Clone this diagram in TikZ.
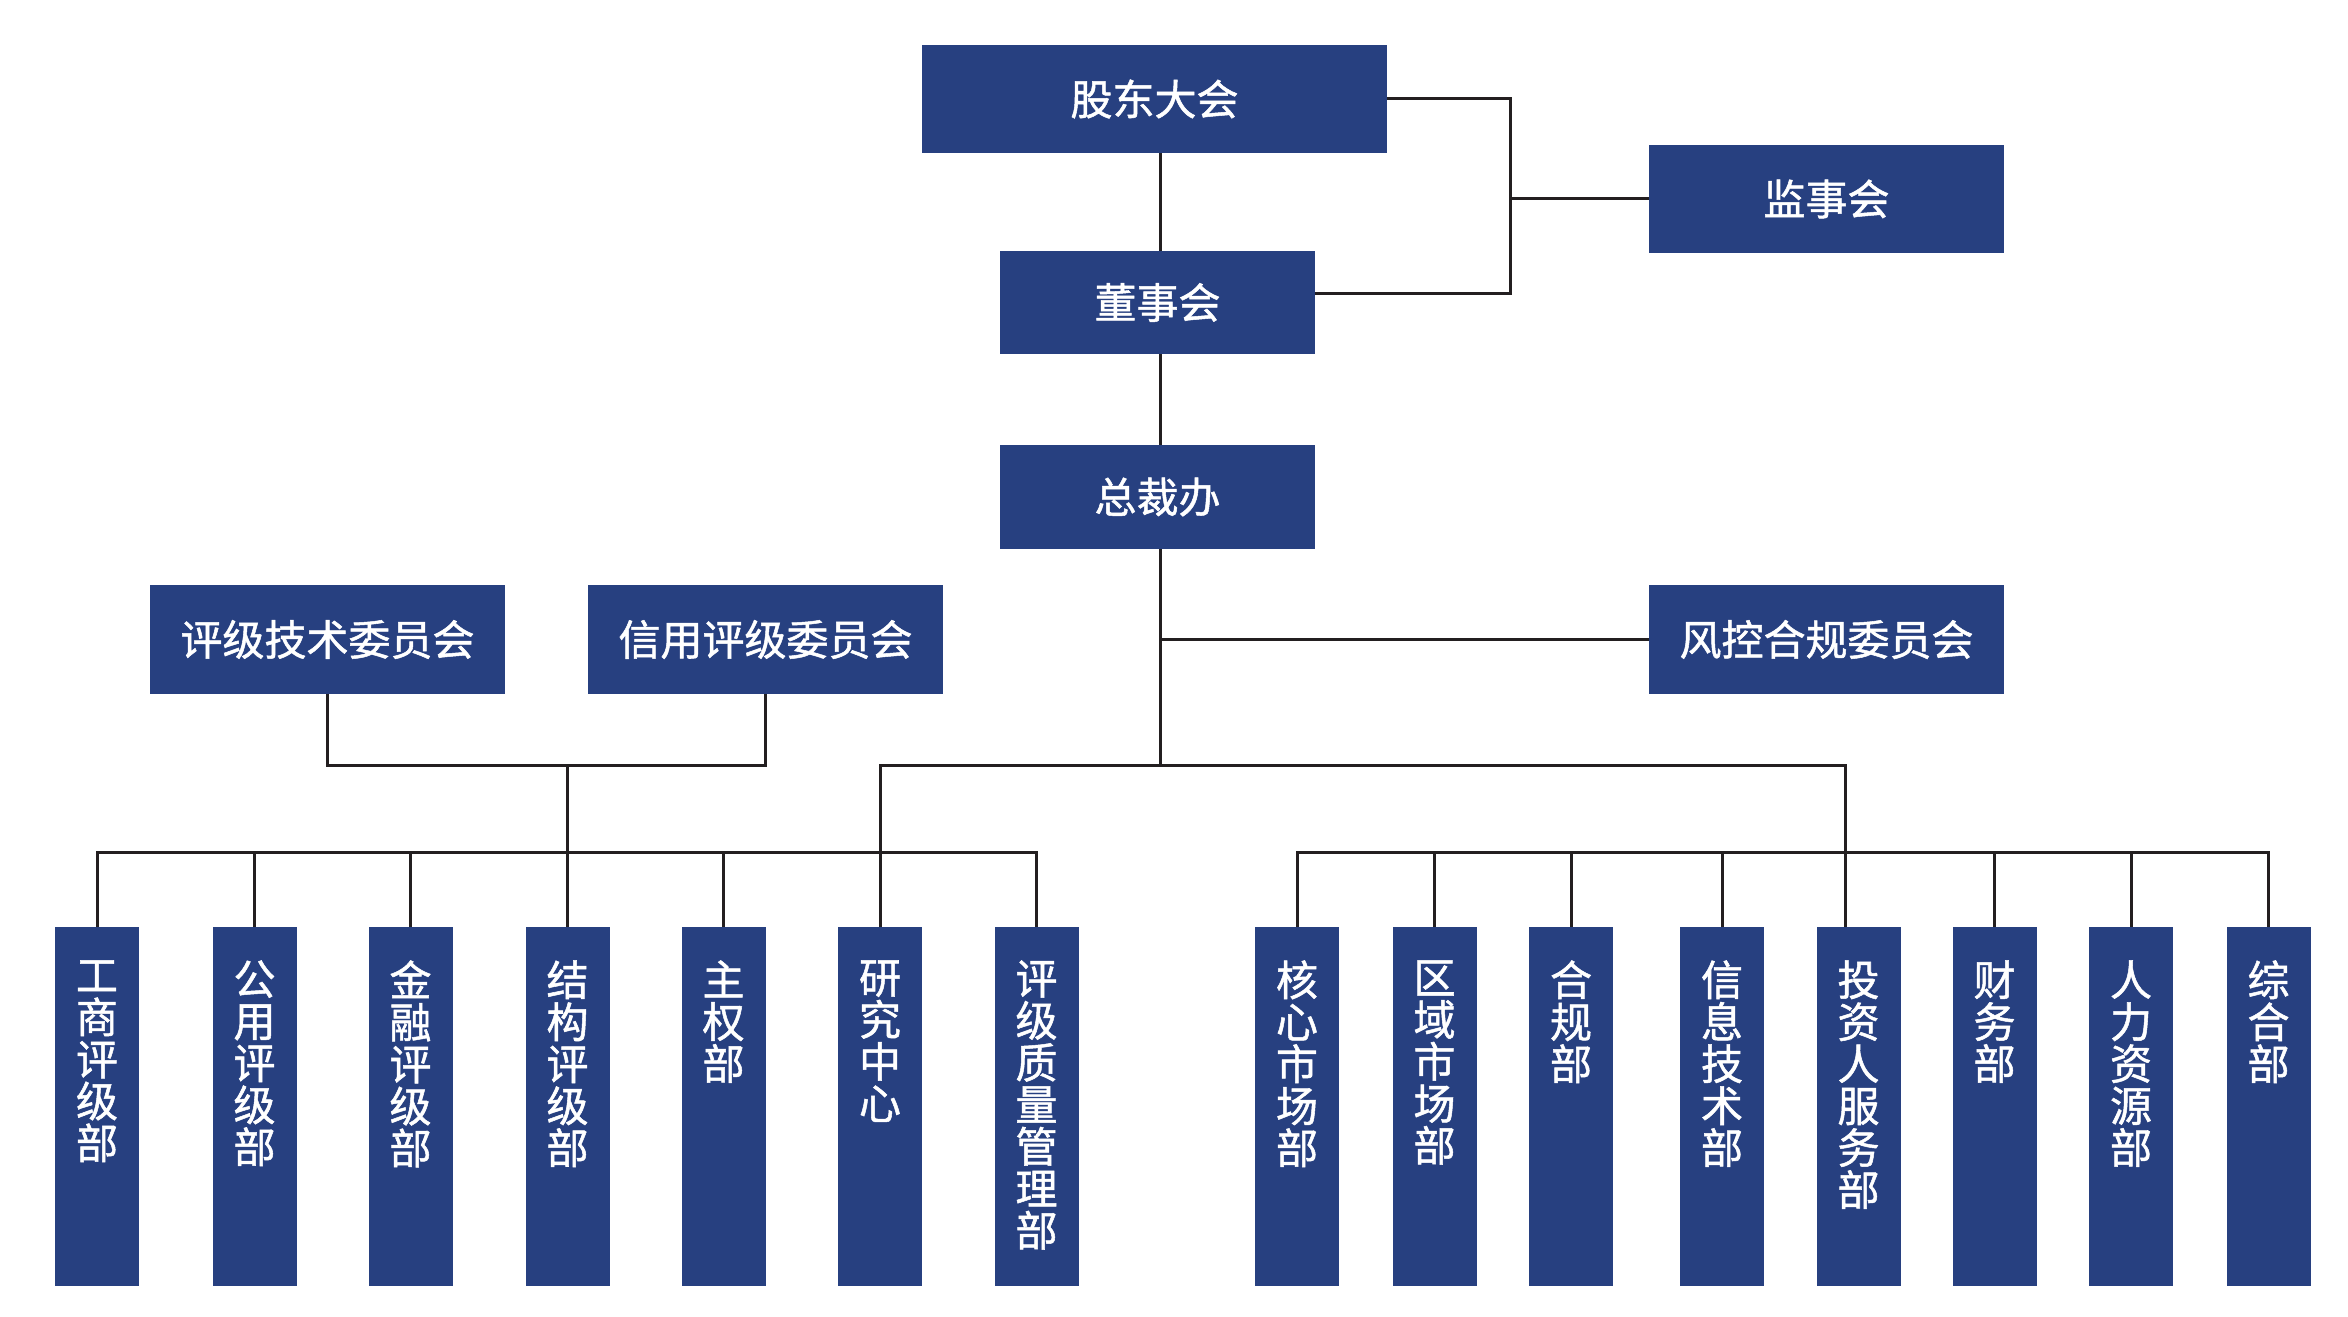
\documentclass[tikz,border=0pt]{standalone}
\usepackage{fontspec}
\setmainfont{Noto Sans CJK SC}[FakeBold=1.2]
\usepackage{tikz}
\usetikzlibrary{calc}
\definecolor{boxblue}{RGB}{39,64,128}
\definecolor{linegray}{RGB}{35,31,32}
\newcommand\vlabel[1]{\parbox[t][146.5pt][t]{21pt}{\centering #1}}

\begin{document}
\begin{tikzpicture}[x=0.5pt,y=-0.5pt,
  box/.style={fill=boxblue,text=white,inner sep=0pt,font=\fontsize{21pt}{21pt}\selectfont},
  dept/.style={box,anchor=north,minimum width=42pt,minimum height=179.5pt,inner ysep=16.5pt},
  link/.style={draw=linegray,line width=1.5pt}]
  \useasboundingbox (0,0) rectangle (2348,1316);
  \node [box,minimum width=232.5pt,minimum height=54pt] (GD) at (1154.5,99) {股东大会};
  \node [box,minimum width=177.5pt,minimum height=54pt] (JS) at (1826.5,199) {监事会};
  \node [box,minimum width=157.5pt,minimum height=51.5pt] (DS) at (1157.5,302.5) {董事会};
  \node [box,minimum width=157.5pt,minimum height=52pt] (ZC) at (1157.5,497) {总裁办};
  \node [box,minimum width=177.5pt,minimum height=54.5pt] (PJ) at (327.5,639.5) {评级技术委员会};
  \node [box,minimum width=177.5pt,minimum height=54.5pt] (XY) at (765.5,639.5) {信用评级委员会};
  \node [box,minimum width=177.5pt,minimum height=54.5pt] (FK) at (1826.5,639.5) {风控合规委员会};
  \foreach \x/\n/\t in {97/D1/工\\商\\评\\级\\部, 254.5/D2/公\\用\\评\\级\\部,
      410.5/D3/金\\融\\评\\级\\部, 567.5/D4/结\\构\\评\\级\\部, 723.5/D5/主\\权\\部,
      880/D6/研\\究\\中\\心, 1036.5/D7/评\\级\\质\\量\\管\\理\\部}
    \node [dept] (\n) at (\x,927) {\vlabel{\t}};
  \foreach \x/\n/\t in {1297/R1/核\\心\\市\\场\\部, 1434.5/R2/区\\域\\市\\场\\部,
      1571/R3/合\\规\\部, 1722/R4/信\\息\\技\\术\\部, 1858.5/R5/投\\资\\人\\服\\务\\部,
      1994.5/R6/财\\务\\部, 2131/R7/人\\力\\资\\源\\部, 2268.5/R8/综\\合\\部}
    \node [dept] (\n) at (\x,927) {\vlabel{\t}};
  \coordinate (T) at (1160.5,765);
  \coordinate (BR) at (1510.5,199);
  \coordinate (CB) at (567.5,765);
  \coordinate (UE) at (1845,765);
  \coordinate (BUS) at (0,852);
  \draw [link] (GD.south -| T) -- (DS.north -| T);
  \draw [link] (DS.south -| T) -- (ZC.north -| T);
  \draw [link] (ZC.south -| T) -- (T);
  \draw [link] (T |- FK.west) -- (FK.west);
  \draw [link] (GD.east) -| (BR) |- ([yshift=4.75pt]DS.east);
  \draw [link] (BR) -- (JS.west);
  \draw [link] (PJ.south) |- (CB) -| (XY.south);
  \draw [link] (CB) -- (D4.north);
  \draw [link] (D6.north |- BUS) -- (D6.north |- T) -- (UE) -- (UE |- R5.north);
  \draw [link] (D1.north) -- (D1.north |- BUS) -- (D7.north |- BUS) -- (D7.north);
  \draw [link] (R1.north) -- (R1.north |- BUS) -- (R8.north |- BUS) -- (R8.north);
  \foreach \n in {D2,D3,D5,D6,R2,R3,R4,R6,R7}
    \draw [link] (\n.north) -- (\n.north |- BUS);
\end{tikzpicture}
\end{document}
